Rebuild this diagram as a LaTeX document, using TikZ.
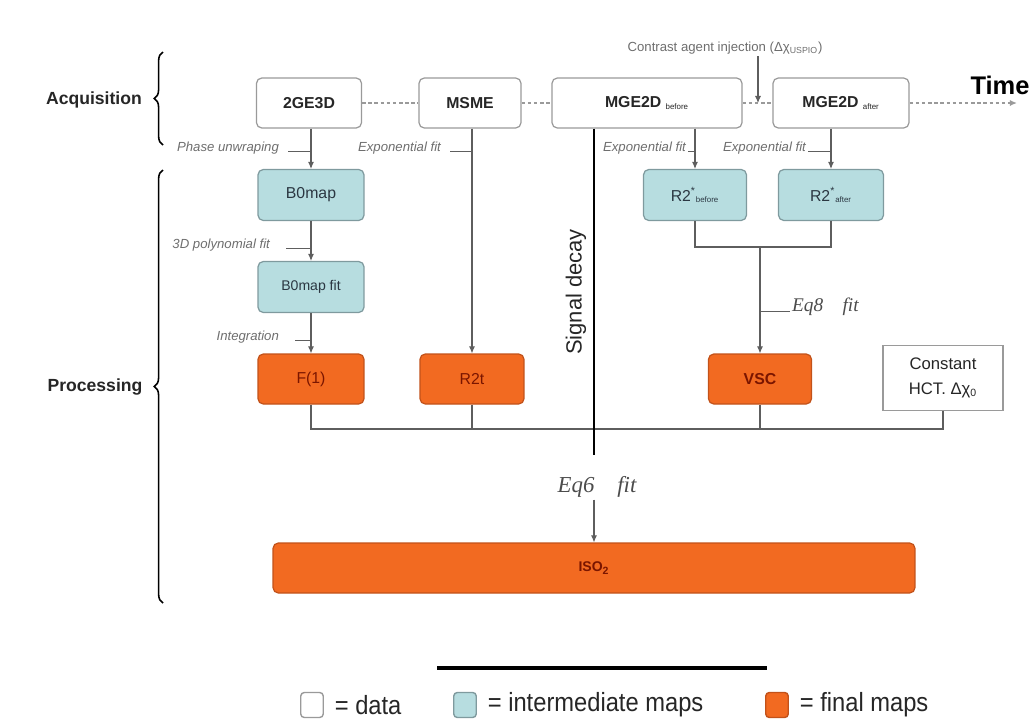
\documentclass[tikz,border=0pt]{standalone}
\usepackage{fontspec}
\setmainfont{Liberation Sans}
\newfontfamily\eqfont{Liberation Serif}
\newfontfamily\legfont[FakeStretch=0.9]{Liberation Sans}
\usetikzlibrary{arrows.meta,decorations.pathreplacing,positioning}

\definecolor{interblue}{HTML}{B7DDE0}
\definecolor{interdraw}{HTML}{7F9A9E}
\definecolor{intertext}{HTML}{2B3742}
\definecolor{finorange}{HTML}{F26A21}
\definecolor{findraw}{HTML}{C2521A}
\definecolor{fintext}{HTML}{7A1500}
\definecolor{datadraw}{HTML}{9A9A9A}
\definecolor{linegray}{HTML}{5E5E5E}
\definecolor{lblgray}{HTML}{6E6E6E}

\newcommand{\tinysub}[1]{\textsubscript{\fontsize{4.5}{5}\selectfont\mdseries #1}}

\tikzset{
  box/.style={rounded corners=3pt, line width=0.7pt, inner sep=1pt, align=center},
  databox/.style={box, draw=datadraw, fill=white, minimum height=1cm,
    font=\bfseries\fontsize{9}{11}\selectfont, text=black!85},
  interbox/.style={box, draw=interdraw, fill=interblue, minimum height=1.02cm,
    font=\fontsize{9}{11}\selectfont, text=intertext},
  finbox/.style={box, draw=findraw, fill=finorange, minimum height=1cm,
    font=\fontsize{9}{11}\selectfont, text=fintext},
  conn/.style={draw=linegray, line width=0.6pt},
  arr/.style={-{Latex[length=4pt,width=3.5pt]}},
  dots/.style={draw=datadraw, line width=0.8pt, dash pattern=on 2pt off 1.5pt},
  lbl/.style={inner sep=1pt, text=lblgray, font=\itshape\fontsize{7.5}{9}\selectfont},
  eqlbl/.style={inner sep=1pt, text=black!70, font=\eqfont\itshape\fontsize{11}{13}\selectfont},
  phase/.style={inner sep=1pt, font=\bfseries\fontsize{10}{12}\selectfont, text=black!85},
  legsq/.style={rounded corners=2pt, line width=0.8pt, minimum width=0.45cm, minimum height=0.5cm, inner sep=0pt},
  legtxt/.style={inner sep=1pt, font=\legfont\fontsize{15}{17}\selectfont, text=black!85}
}

\begin{document}
\begin{tikzpicture}[x=0.02cm,y=-0.02cm]
  \useasboundingbox (0,0) rectangle (1029,721);

%fases
  \node[phase] (acq) at (94,100) {Acquisition};
  \node[phase] (proc) at (95,387) {Processing};
  \draw[line width=0.9pt,decorate,decoration={brace,amplitude=5pt}] (163,145) -- (163,52);
  \draw[line width=0.9pt,decorate,decoration={brace,amplitude=5pt}] (163,603) -- (163,170);

%aquisicao
  \node[databox, minimum width=2.1cm] (g3d) at (309,103) {2GE3D};
  \node[databox, minimum width=2.04cm] (msme) at (470,103) {MSME};
  \node[databox, minimum width=3.8cm] (mgeb) at (647,103) {MGE2D \tinysub{before}};
  \node[databox, minimum width=2.72cm] (mgea) at (841,103) {MGE2D \tinysub{after}};
  \node[inner sep=0pt, font=\bfseries\fontsize{14.5}{16}\selectfont] (time) at (1000,85) {Time};
  \coordinate (tend) at (1017,103);
  \coordinate (inj) at (758,103);
  \node[inner sep=1pt, text=lblgray, font=\fontsize{7.5}{9}\selectfont] (cai) at (725,48)
    {Contrast agent injection (Δχ\textsubscript{\fontsize{5}{6}\selectfont USPIO})};

  \draw[dots] (g3d) -- (msme);
  \draw[dots] (msme) -- (mgeb);
  \draw[dots] (mgeb) -- (mgea);
  \draw[dots,-{Latex[length=4pt,width=3.5pt]}] (mgea) -- (tend);
  \draw[conn,arr] (cai.south -| inj) -- (inj);

%mapas
  \node[interbox, minimum width=2.12cm] (b0) at (311,195) {B0map};
  \node[interbox, minimum width=2.12cm, font=\fontsize{8}{10}\selectfont] (b0fit) at (311,287) {B0map fit};
  \node[finbox, minimum width=2.12cm] (f1) at (311,379) {F(1)};
  \node[finbox, minimum width=2.08cm] (r2t) at (472,379) {R2t};
  \node[interbox, minimum width=2.06cm] (r2b) at (695,195) {R2\textsuperscript{*}\tinysub{before}};
  \node[interbox, minimum width=2.1cm] (r2a) at (831,195) {R2\textsuperscript{*}\tinysub{after}};
  \node[finbox, minimum width=2.06cm, font=\bfseries\fontsize{9}{11}\selectfont] (vsc) at (760,379) {VSC};
  \node[draw=datadraw, fill=white, line width=0.7pt, minimum width=2.4cm, minimum height=1.3cm,
    align=center, font=\fontsize{9.5}{12}\selectfont, text=black!85] (cst) at (943,378)
    {Constant\\[2pt]HCT. Δχ\textsubscript{\fontsize{6}{7}\selectfont 0}};
  \node[finbox, minimum width=12.84cm, font=\bfseries\fontsize{8}{10}\selectfont] (iso) at (594,568) {ISO\textsubscript{2}};

%rotulos
  \node[lbl, anchor=east] (lphase) at (281,148) {Phase unwraping};
  \node[lbl, anchor=east] (lpoly) at (272,245) {3D polynomial fit};
  \node[lbl, anchor=east] (lint) at (281,337) {Integration};
  \node[lbl, anchor=east] (lexp1) at (443,148) {Exponential fit};
  \node[lbl, anchor=east] (lexp2) at (688,148) {Exponential fit};
  \node[lbl, anchor=east] (lexp3) at (808,148) {Exponential fit};
  \node[rotate=90, font=\fontsize{12.5}{14}\selectfont, text=black!85] (sdec) at (576,292) {Signal decay};
  \node[eqlbl, anchor=west] (eq8) at (790,307) {Eq8\quad fit};
  \node[eqlbl, font=\eqfont\itshape\fontsize{13}{15}\selectfont] (eq6) at (597,487) {Eq6\quad fit};

%ligacoes
  \draw[conn,arr] (g3d.south -| b0.north) -- (b0.north);
  \draw[conn,arr] (b0) -- (b0fit);
  \draw[conn,arr] (b0fit) -- (f1);
  \draw[conn,arr] (msme.south -| r2t.north) -- (r2t.north);
  \draw[conn,arr] (mgeb.south -| r2b.north) -- (r2b.north);
  \draw[conn,arr] (mgea.south -| r2a.north) -- (r2a.north);
  \coordinate (mrg) at (760,247);
  \draw[conn] (r2b.south) |- (mrg) -| (r2a.south);
  \draw[conn,arr] (mrg) -- (vsc.north);
  \coordinate (bus) at (594,429);
  \draw[conn] (f1.south) |- (bus) -| (cst.south);
  \draw[conn] (r2t.south) -- (r2t.south |- bus);
  \draw[conn] (vsc.south) -- (vsc.south |- bus);
  \coordinate (sigend) at (594,455);
  \draw[line width=1.6pt] (mgeb.south -| sigend) -- (sigend);
  \draw[conn,arr] (eq6.south -| iso.north) -- (iso.north);

%tracos dos rotulos
  \draw[conn] ([xshift=4pt]lphase.base east) -- (lphase.base east -| b0.north);
  \draw[conn] ([xshift=8pt]lpoly.base east) -- (lpoly.base east -| b0.north);
  \draw[conn] ([xshift=8pt]lint.base east) -- (lint.base east -| b0.north);
  \draw[conn] ([xshift=4pt]lexp1.base east) -- (lexp1.base east -| r2t.north);
  \draw[conn] (lexp2.base east) -- (lexp2.base east -| r2b.north);
  \draw[conn] (lexp3.base east) -- (lexp3.base east -| r2a.north);
  \draw[conn] (eq8.base west) -- (eq8.base west -| mrg);

%legenda
  \draw[line width=2.3pt] (437,668) -- (767,668);
  \node[legsq, draw=datadraw, fill=white] (ldata) at (312,705) {};
  \node[legtxt, right=5pt of ldata] (tdata) {= data};
  \node[legsq, draw=interdraw, fill=interblue] (linter) at (465,705) {};
  \node[legtxt, right=5pt of linter] (tinter) {= intermediate maps};
  \node[legsq, draw=findraw, fill=finorange] (lfinal) at (777,705) {};
  \node[legtxt, right=5pt of lfinal] (tfinal) {= final maps};
\end{tikzpicture}
\end{document}
